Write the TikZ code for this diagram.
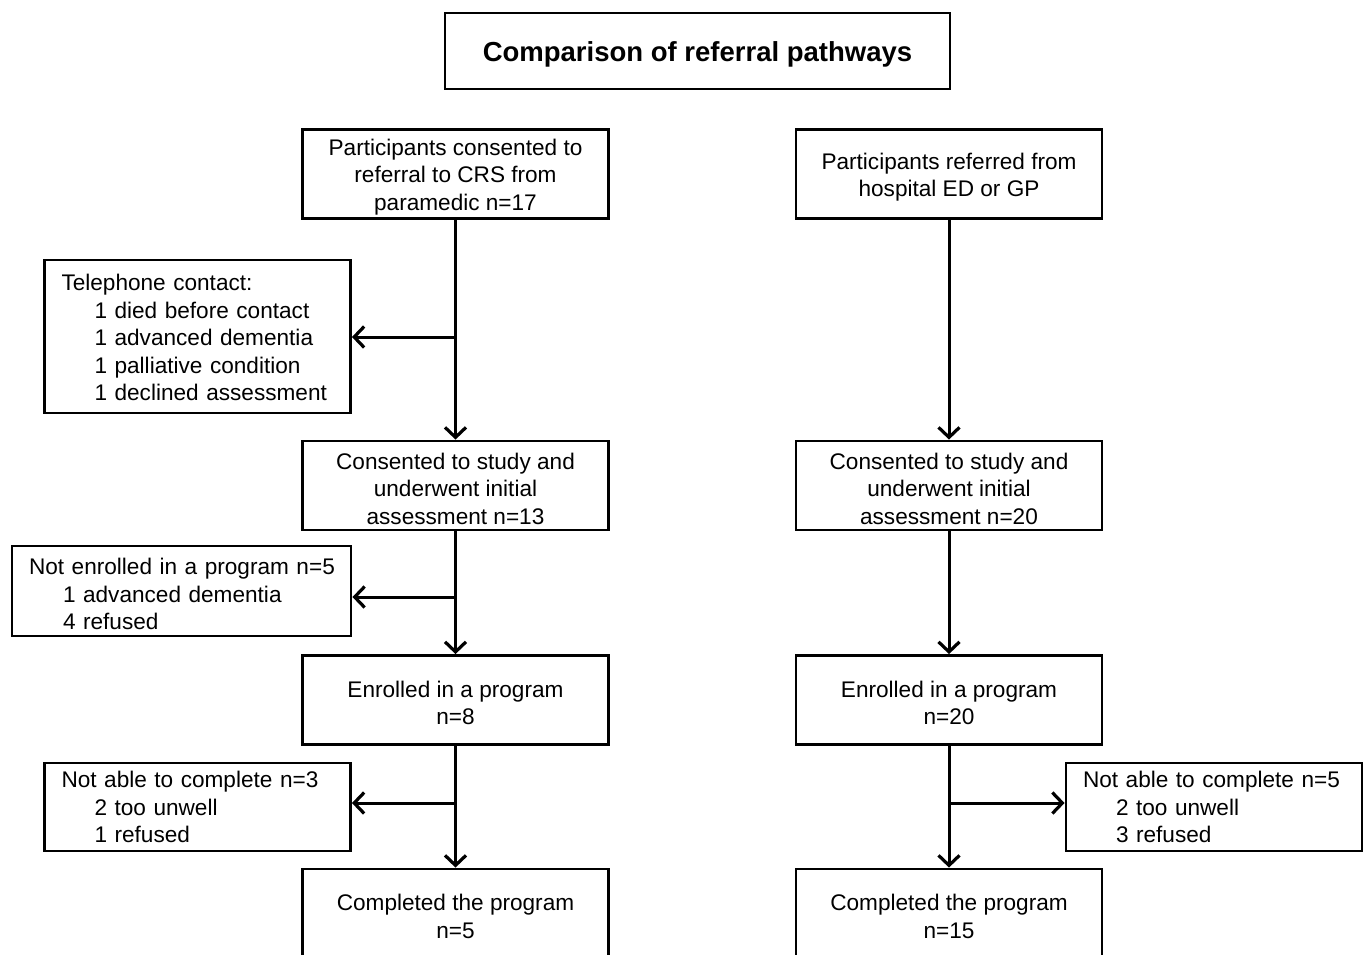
\documentclass[tikz,border=0pt]{standalone}
\usepackage{fontspec}
\setmainfont{Liberation Sans}
\usetikzlibrary{arrows.meta}
\newcommand{\dn}{\rule{0pt}{22.5pt}}
\begin{document}
\begin{tikzpicture}[x=1pt,y=-1pt,
 txt/.style={font=\fontsize{22.6}{27.5}\selectfont},
 box/.style={txt,draw,line width=2.9pt,inner sep=0pt,align=center,minimum width=306pt,minimum height=89pt},
 side/.style={txt,draw,line width=2.9pt,inner ysep=0pt,inner xsep=17pt,align=left},
 arr/.style={line width=3pt,-{Straight Barb[length=10pt,width=21pt,line width=3.2pt]}}]
\useasboundingbox (0,0) rectangle (1367,954);
\clip (0,0) rectangle (1367,954);
% title
\node[draw,line width=2.9pt,minimum width=505pt,minimum height=76pt,font=\fontsize{27.5}{32}\selectfont\bfseries] (title) at (697.5,51) {\rule{0pt}{26pt}Comparison of referral pathways};
% left column
\node[box] (l1) at (455.5,174) {\dn Participants consented to\\referral to CRS from\\paramedic n=17};
\node[box] (l2) at (455.5,485.5) {\dn Consented to study and\\underwent initial\\assessment n=13};
\node[box] (l3) at (455.5,700) {\dn Enrolled in a program\\n=8};
\node[box] (l4) at (455.5,913.5) {\dn Completed the program\\n=5};
% right column
\node[box] (r1) at (949,174) {\dn Participants referred from\\hospital ED or GP};
\node[box] (r2) at (949,485.5) {\dn Consented to study and\\underwent initial\\assessment n=20};
\node[box] (r3) at (949,700) {\dn Enrolled in a program\\n=20};
\node[box] (r4) at (949,913.5) {\dn Completed the program\\n=15};
% side boxes
\node[side,text width=272pt,minimum height=153pt] (tel) at (197.5,336.5) {\rule{0pt}{19pt}Telephone contact:\\\hspace*{33pt}1 died before contact\\\hspace*{33pt}1 advanced dementia\\\hspace*{33pt}1 palliative condition\\\hspace*{33pt}1 declined assessment};
\node[side,text width=305pt,minimum height=90pt] (ne) at (181.5,591) {\dn\mbox{Not enrolled in a program n=5}\\\hspace*{34pt}1 advanced dementia\\\hspace*{34pt}4 refused};
\node[side,text width=272pt,minimum height=88pt] (nl) at (197.5,807) {Not able to complete n=3\\\hspace*{33pt}2 too unwell\\\hspace*{33pt}1 refused};
\node[side,text width=262pt,minimum height=88pt] (nr) at (1214,807) {\mbox{Not able to complete n=5}\\\hspace*{33pt}2 too unwell\\\hspace*{33pt}3 refused};
% junctions
\coordinate (j1) at (455.5,337);
\coordinate (j2) at (455.5,597);
\coordinate (j3) at (455.5,803);
\coordinate (j4) at (949,803);
% vertical arrows
\draw[arr] (l1.south) -- (l2.north);
\draw[arr] (l2.south) -- (l3.north);
\draw[arr] (l3.south) -- (l4.north);
\draw[arr] (r1.south) -- (r2.north);
\draw[arr] (r2.south) -- (r3.north);
\draw[arr] (r3.south) -- (r4.north);
% side arrows
\draw[arr] (j1) -- (tel.east |- j1);
\draw[arr] (j2) -- (ne.east |- j2);
\draw[arr] (j3) -- (nl.east |- j3);
\draw[arr] (j4) -- (nr.west |- j4);
\end{tikzpicture}
\end{document}
